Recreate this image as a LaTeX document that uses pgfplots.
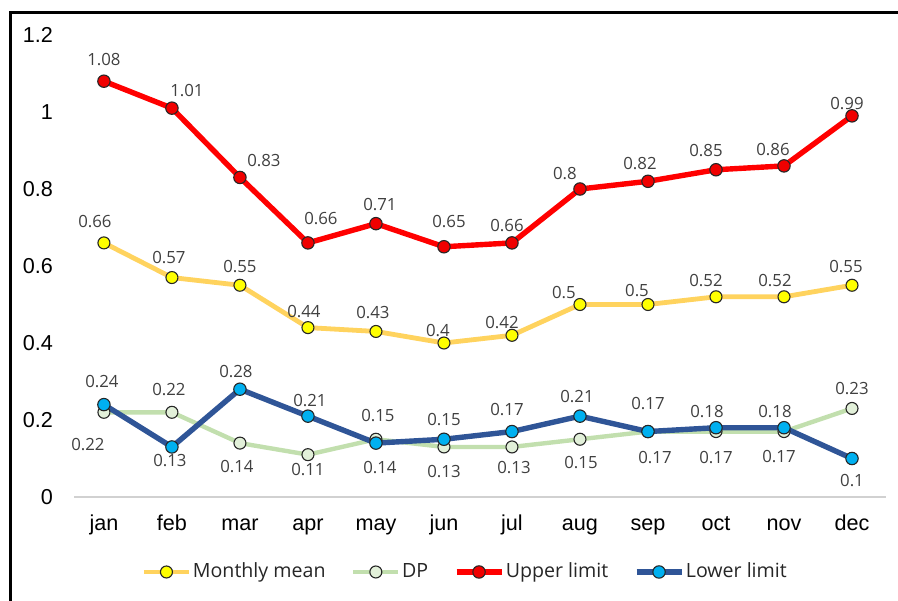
\documentclass[border=0pt]{standalone}
\usepackage{pgfplots}
\usepackage{pgfplotstable}
\pgfplotsset{compat=1.18}
\usepackage{fontspec}
\setmainfont{Liberation Sans}
\newfontfamily\osans{Open Sans}
\definecolor{meanline}{HTML}{FFD35E}
\definecolor{meanfill}{HTML}{FFFF00}
\definecolor{dpline}{HTML}{C2DFAE}
\definecolor{dpfill}{HTML}{E2F0D9}
\definecolor{upline}{HTML}{FF0000}
\definecolor{upfill}{HTML}{F00000}
\definecolor{loline}{HTML}{2F5597}
\definecolor{lofill}{HTML}{00B0F0}
\definecolor{labgray}{HTML}{404040}

\pgfplotstableread{
x y lab dx dy
0 0.66 0.66 -9 21
1 0.57 0.57 -3 20
2 0.55 0.55 0 19
3 0.44 0.44 -4 16
4 0.43 0.43 -3 19
5 0.40 0.4 -6 12
6 0.42 0.42 -10 13
7 0.50 0.5 -16 12
8 0.50 0.5 -11 14
9 0.52 0.52 -10 16
10 0.52 0.52 -9 16
11 0.55 0.55 -6 19
}\meantab

\pgfplotstableread{
x y lab dx dy
0 0.22 0.22 -16 -32
1 0.22 0.22 -3 23
2 0.14 0.14 -3 -23
3 0.11 0.11 0 -15
4 0.15 0.15 2 24
5 0.13 0.13 0 -25
6 0.13 0.13 2 -21
7 0.15 0.15 1 -23
8 0.17 0.17 7 -26
9 0.17 0.17 0 -26
10 0.17 0.17 -5 -25
11 0.23 0.23 0 20
}\dptab

\pgfplotstableread{
x y lab dx dy
0 1.08 1.08 0 22
1 1.01 1.01 15 18
2 0.83 0.83 24 17
3 0.66 0.66 13 24
4 0.71 0.71 4 19
5 0.65 0.65 5 25
6 0.66 0.66 -5 17
7 0.80 0.8 -15 15
8 0.82 0.82 -8 18
9 0.85 0.85 -10 19
10 0.86 0.86 -11 16
11 0.99 0.99 -5 12
}\uptab

\pgfplotstableread{
x y lab dx dy
0 0.24 0.24 -2 23
1 0.13 0.13 -2 -14
2 0.28 0.28 -4 18
3 0.21 0.21 2 16
4 0.14 0.14 4 -24
5 0.15 0.15 0 20
6 0.17 0.17 -5 22
7 0.21 0.21 -3 20
8 0.17 0.17 0 28
9 0.18 0.18 -9 16
10 0.18 0.18 -9 16
11 0.10 0.1 0 -22
}\lotab

\begin{document}
\begin{tikzpicture}[x=1pt,y=1pt]
\useasboundingbox (0,0) rectangle (449,300);
\begin{axis}[
  at={(37pt,51.5pt)}, anchor=south west,
  scale only axis, width=406pt, height=231pt,
  xmin=-0.44, xmax=11.5, ymin=0, ymax=1.2,
  clip=false,
  axis x line=bottom, axis y line=left,
  x axis line style={draw=black!18, line width=0.8pt, -},
  y axis line style={draw=none},
  major tick length=0pt,
  xtick={0,...,11},
  xticklabels={jan,feb,mar,apr,may,jun,jul,aug,sep,oct,nov,dec},
  ytick={0,0.2,0.4,0.6,0.8,1,1.2},
  yticklabels={0,0.2,0.4,0.6,0.8,1,1.2},
  ticklabel style={font=\fontsize{10.8}{12}\selectfont, text=black},
  xticklabel style={text height=7.8pt, text depth=2pt, yshift=-5.5pt},
  yticklabel style={xshift=-7pt},
  point meta=explicit symbolic,
  nodes near coords={\pgfplotspointmeta},
  nodes near coords align={center},
  visualization depends on={\thisrow{dx}\as\ldx},
  visualization depends on={\thisrow{dy}\as\ldy},
  every node near coord/.append style={anchor=center, font=\osans\fontsize{8.4}{9}\selectfont, text=labgray, inner sep=0pt, xshift={0.5pt*(\ldx)}, yshift={0.5pt*(\ldy)}},
  legend columns=4,
  legend style={at={(0.4815,-0.1623)}, anchor=center, draw=none, fill=none,
    font=\osans\fontsize{9.8}{11}\selectfont, text=black!85,
    /tikz/every node/.append style={inner sep=0.8pt},
    /tikz/every even column/.append style={column sep=12pt}},
  legend cell align=left,
  legend image code/.code={\draw[mark repeat=2,mark phase=2,#1] plot coordinates {(0pt,0pt) (11.25pt,0pt) (22.5pt,0pt)};},
]
\addplot[color=meanline, line width=2.4pt, mark=*, mark size=3.0pt, mark options={solid, fill=meanfill, draw=black!85, line width=0.55pt}] table[x=x,y=y,meta=lab] {\meantab};
\addlegendentry{Monthly mean}
\addplot[color=dpline, line width=2.2pt, mark=*, mark size=3.0pt, mark options={solid, fill=dpfill, draw=black!85, line width=0.55pt}] table[x=x,y=y,meta=lab] {\dptab};
\addlegendentry{DP}
\addplot[color=upline, line width=2.7pt, mark=*, mark size=3.1pt, mark options={solid, fill=upfill, draw=black!85, line width=0.55pt}] table[x=x,y=y,meta=lab] {\uptab};
\addlegendentry{Upper limit}
\addplot[color=loline, line width=2.7pt, mark=*, mark size=3.1pt, mark options={solid, fill=lofill, draw=black!85, line width=0.55pt}] table[x=x,y=y,meta=lab] {\lotab};
\addlegendentry{Lower limit}
\end{axis}
\draw[line width=1.5pt, black] (5,-5) -- (5,293.5) -- (460,293.5);
\end{tikzpicture}
\end{document}
